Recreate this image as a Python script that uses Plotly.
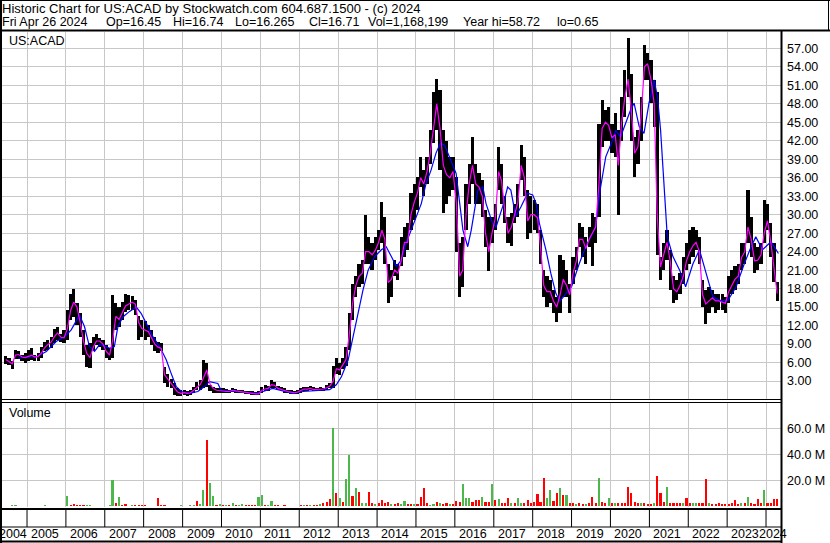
import pandas as pd
import plotly.graph_objects as go

# ---------------- data ----------------
months = pd.date_range("2004-06-01", "2024-04-01", freq="MS") + pd.Timedelta(days=14)

high = [
    7.0, 6.7, 6.3, 8.0, 7.8, 7.3, 7.6,
    8.0, 8.3, 7.3, 7.6, 8.6, 9.4, 9.7, 10.2, 11.5, 11.8, 10.7, 11.3,
    14.5, 17.2, 17.9, 15.6, 14.0, 11.3, 8.9, 9.1, 10.2, 10.7, 10.0, 9.7,
    8.9, 8.3, 17.0, 15.6, 15.0, 15.9, 17.2, 17.0, 16.8, 16.2, 13.5, 12.9,
    12.7, 12.1, 11.3, 10.2, 9.4, 9.1, 5.3, 4.2, 3.4, 2.6, 1.8, 1.5,
    1.5, 1.3, 1.5, 2.1, 2.9, 3.2, 6.4, 5.9, 2.3, 2.1, 1.8, 1.8,
    1.8, 1.7, 1.6, 1.8, 1.7, 1.6, 1.5, 1.4, 1.4, 1.3, 1.2, 1.3,
    2.1, 2.3, 2.2, 3.2, 2.8, 2.2, 2.0, 1.8, 1.6, 1.6, 1.4, 1.5,
    1.8, 2.1, 2.0, 2.2, 2.0, 1.9, 2.0, 1.9, 2.3, 2.6, 5.5, 6.7,
    6.0, 6.7, 8.6, 14.0, 18.8, 20.0, 22.0, 22.6, 30.0, 26.4, 25.4, 26.4,
    27.5, 32.0, 29.7, 22.0, 21.0, 22.6, 22.0, 26.4, 28.0, 28.6, 33.5, 35.0,
    36.2, 39.4, 37.2, 39.4, 43.7, 50.0, 52.0, 50.2, 43.7, 42.0, 39.4, 39.4,
    36.2, 25.4, 26.4, 35.0, 38.3, 42.6, 38.3, 36.7, 35.6, 30.8, 29.7, 29.7,
    31.8, 41.0, 38.3, 33.0, 29.7, 30.2, 31.8, 35.0, 41.3, 39.4, 34.0, 33.0,
    32.4, 31.8, 27.5, 21.0, 20.0, 19.4, 17.8, 16.7, 23.5, 22.6, 21.0, 18.8,
    23.2, 24.8, 28.6, 28.0, 26.4, 28.0, 30.2, 29.7, 44.8, 48.6, 47.0, 47.5,
    44.8, 46.5, 43.7, 49.1, 53.5, 58.7, 52.9, 42.6, 43.7, 49.1, 57.5, 56.2,
    55.1, 51.9, 50.0, 23.2, 25.4, 27.5, 24.3, 20.0, 19.4, 20.5, 23.2, 25.4,
    27.5, 28.0, 27.5, 26.4, 19.4, 17.8, 18.3, 17.8, 17.2, 17.2, 17.2, 16.7,
    20.0, 21.0, 21.6, 22.0, 25.4, 25.4, 34.0, 29.7, 25.4, 24.8, 25.4, 32.4,
    31.8, 28.6, 25.4, 19.0,
]

low = [
    5.8, 5.6, 5.0, 6.5, 6.6, 6.2, 6.0,
    6.2, 6.4, 6.2, 6.2, 6.7, 7.8, 8.0, 8.3, 9.1, 9.7, 9.4, 9.1,
    9.7, 12.9, 13.4, 12.1, 10.2, 7.2, 5.3, 5.1, 8.0, 8.9, 8.6, 8.0,
    6.7, 6.4, 6.7, 11.3, 11.8, 12.9, 14.2, 14.6, 14.6, 13.7, 9.7, 10.2,
    9.7, 10.2, 8.8, 7.8, 7.5, 7.8, 2.6, 2.1, 1.8, 0.7, 0.6, 0.6,
    0.7, 0.65, 0.7, 1.0, 1.5, 1.6, 1.8, 2.1, 1.4, 1.1, 1.0, 1.0,
    1.0, 1.0, 1.0, 1.2, 1.1, 1.0, 1.0, 0.9, 0.9, 0.8, 0.7, 0.7,
    1.0, 1.3, 1.4, 1.8, 1.8, 1.5, 1.3, 1.0, 1.0, 0.9, 0.9, 0.9,
    1.1, 1.4, 1.4, 1.5, 1.3, 1.3, 1.4, 1.4, 1.6, 1.8, 1.8, 4.2,
    4.0, 5.0, 5.5, 8.0, 12.9, 16.7, 18.3, 18.8, 22.0, 22.0, 21.0, 22.6,
    24.3, 25.4, 22.0, 15.6, 16.7, 20.0, 19.4, 21.6, 23.2, 24.3, 27.5, 29.2,
    30.8, 34.5, 33.0, 35.0, 38.3, 41.6, 43.7, 37.2, 30.2, 31.8, 33.0, 34.0,
    24.0, 16.7, 18.3, 27.5, 31.8, 35.0, 31.8, 31.8, 29.7, 24.8, 20.8, 25.4,
    27.5, 34.0, 31.8, 28.6, 25.4, 25.0, 28.6, 29.7, 35.6, 33.0, 26.0, 27.0,
    27.5, 27.0, 22.0, 16.7, 15.0, 15.6, 14.0, 12.6, 14.0, 16.7, 16.7, 14.0,
    18.8, 21.0, 24.8, 23.2, 22.0, 24.8, 21.6, 25.4, 29.7, 41.0, 42.0, 42.0,
    40.0, 39.4, 30.0, 42.0, 45.9, 49.1, 42.0, 36.2, 38.3, 42.0, 51.9, 51.9,
    48.1, 44.3, 23.5, 19.4, 21.0, 22.6, 17.8, 15.6, 16.1, 17.2, 18.8, 21.0,
    22.0, 23.2, 24.3, 22.0, 15.0, 12.3, 14.0, 15.0, 14.0, 14.6, 14.6, 14.0,
    15.6, 17.2, 17.8, 18.8, 21.0, 22.0, 25.4, 23.2, 20.5, 21.0, 22.0, 25.4,
    27.5, 23.2, 19.0, 16.0,
]

ma_fast = [
    6.5, 6.2, 5.8, 7.2, 7.3, 6.9, 6.8,
    7.0, 7.2, 6.9, 7.0, 7.5, 8.4, 8.9, 9.3, 10.2, 10.8, 10.1, 10.0,
    11.5, 14.5, 15.8, 15.0, 12.5, 9.5, 7.5, 6.8, 8.5, 9.5, 9.5, 9.0,
    7.8, 7.2, 9.5, 13.5, 13.0, 14.0, 15.2, 15.5, 15.8, 15.5, 12.5, 11.5,
    11.2, 11.0, 10.0, 9.0, 8.5, 8.3, 4.0, 3.2, 2.6, 1.9, 1.2, 1.0,
    1.1, 1.0, 1.1, 1.5, 2.0, 2.4, 3.5, 4.8, 2.5, 1.8, 1.5, 1.4,
    1.4, 1.3, 1.3, 1.5, 1.4, 1.3, 1.2, 1.1, 1.1, 1.0, 0.9, 0.9,
    1.5, 1.7, 1.8, 2.4, 2.3, 1.8, 1.6, 1.4, 1.3, 1.2, 1.1, 1.2,
    1.4, 1.7, 1.7, 1.8, 1.6, 1.6, 1.7, 1.7, 1.9, 2.2, 3.0, 5.0,
    4.8, 5.6, 6.5, 10.5, 15.5, 18.5, 20.0, 20.5, 24.0, 24.0, 23.5, 24.2,
    25.5, 27.5, 26.0, 19.0, 19.5, 21.0, 20.5, 22.5, 25.5, 25.5, 30.0, 32.0,
    33.5, 36.0, 35.0, 37.0, 40.0, 44.0, 48.0, 44.0, 38.0, 36.5, 36.0, 37.0,
    32.0, 20.0, 21.0, 30.0, 35.0, 38.0, 35.0, 34.5, 33.0, 27.0, 24.0, 27.0,
    29.5, 37.0, 35.5, 30.5, 27.0, 28.0, 30.0, 32.0, 38.0, 36.0, 29.0, 30.0,
    30.0, 29.5, 25.0, 18.5, 17.5, 17.5, 16.0, 15.0, 17.0, 19.5, 18.5, 17.0,
    20.5, 22.5, 26.0, 26.0, 24.5, 26.0, 27.0, 28.0, 35.0, 44.0, 45.0, 44.5,
    42.5, 43.0, 38.0, 45.0, 49.0, 52.0, 47.0, 40.0, 41.0, 46.0, 54.0, 54.5,
    52.0, 48.0, 30.0, 21.5, 23.5, 25.5, 22.5, 18.0, 17.5, 18.5, 20.0, 22.5,
    24.0, 25.0, 25.5, 24.0, 17.0, 15.5, 16.0, 16.5, 16.0, 16.0, 15.8, 15.6,
    17.5, 18.5, 19.5, 20.0, 23.0, 24.0, 28.0, 26.0, 22.5, 22.6, 23.5, 27.0,
    29.0, 25.5, 21.0, 17.2,
]

ma_slow_dates = [
    "2004-10-08", "2004-12-25", "2005-03-28", "2005-07-01", "2005-10-01", "2005-12-20",
    "2006-02-20", "2006-05-08", "2006-06-25", "2006-08-10", "2006-09-27", "2006-11-13",
    "2007-01-01", "2007-02-15", "2007-04-01", "2007-05-04", "2007-06-20", "2007-08-22",
    "2007-10-24", "2007-12-08", "2008-01-25", "2008-03-28", "2008-05-30", "2008-08-01",
    "2008-09-16", "2008-11-02", "2008-12-20", "2009-03-08", "2009-05-24", "2009-07-25",
    "2009-09-09", "2009-11-28", "2009-12-28", "2010-03-18", "2010-08-22", "2010-11-24",
    "2011-01-26", "2011-04-27", "2011-07-31", "2011-11-03", "2012-02-06", "2012-06-10",
    "2012-10-12", "2012-12-14", "2013-01-31", "2013-04-04", "2013-05-19", "2013-07-06",
    "2013-08-22", "2013-10-09", "2013-12-10", "2014-02-10", "2014-03-28", "2014-05-15",
    "2014-07-01", "2014-08-15", "2014-10-01", "2014-11-17", "2015-01-04", "2015-02-20",
    "2015-04-05", "2015-05-22", "2015-07-08", "2015-08-18", "2015-09-27", "2015-11-10",
    "2016-01-13", "2016-03-17", "2016-05-01", "2016-06-03", "2016-08-04", "2016-09-20",
    "2016-10-20", "2016-12-20", "2017-01-22", "2017-03-25", "2017-05-11", "2017-06-10",
    "2017-07-26", "2017-09-13", "2017-11-14", "2018-01-01", "2018-02-03", "2018-03-05",
    "2018-05-05", "2018-06-20", "2018-08-07", "2018-09-15", "2019-01-01", "2019-03-13",
    "2019-05-14", "2019-08-15", "2019-10-01", "2019-11-18", "2020-01-19", "2020-02-20",
    "2020-04-05", "2020-05-22", "2020-07-08", "2020-08-10", "2020-09-27", "2020-11-11",
    "2020-12-28", "2021-02-14", "2021-03-18", "2021-04-16", "2021-05-12", "2021-06-18",
    "2021-08-10", "2021-10-12", "2021-12-07", "2022-02-13", "2022-04-16", "2022-06-18",
    "2022-08-19", "2022-10-20", "2023-01-08", "2023-03-26", "2023-06-10", "2023-08-14",
    "2023-09-27", "2023-11-29", "2024-02-17", "2024-04-05", "2024-04-26",
]
ma_slow = [
    6.7, 6.9, 6.9, 7.8, 9.4, 10.2,
    11.3, 13.7, 11.8, 8.6, 7.8, 8.9,
    8.7, 8.3, 8.6, 11.8, 13.4, 14.3,
    15.0, 14.0, 12.4, 10.2, 8.6, 6.4,
    4.2, 2.1, 1.3, 1.0, 1.3, 2.1,
    2.9, 2.6, 1.5, 1.4, 1.2, 1.0,
    1.3, 1.8, 1.4, 1.0, 1.3, 1.5,
    1.6, 2.4, 3.7, 6.4, 10.2, 14.0,
    17.8, 21.0, 23.2, 24.3, 24.8, 23.2,
    21.6, 22.6, 25.4, 27.5, 29.7, 31.8,
    35.0, 37.2, 40.0, 41.6, 41.3, 39.5,
    36.7, 27.5, 24.8, 27.5, 34.0, 34.5,
    31.8, 28.6, 28.0, 31.3, 34.5, 34.0,
    29.7, 31.3, 33.5, 33.2, 31.8, 28.6,
    24.3, 20.5, 17.2, 16.0, 18.3, 22.0,
    24.8, 28.0, 34.5, 39.4, 42.0, 43.7,
    42.6, 44.8, 47.0, 48.1, 44.3, 43.2,
    48.1, 51.9, 49.1, 43.7, 36.0, 26.4,
    23.2, 21.0, 18.3, 22.0, 24.3, 20.5,
    16.7, 16.1, 16.1, 18.3, 22.0, 24.8,
    26.4, 24.3, 25.6, 24.3, 23.7,
]

# volume in millions (largest session of each month) and direction (g = up, r = down)
volume_m = [
    0.3, 0.2, 0.8, 0.4, 0.3, 0.2, 0.3,
    0.3, 0.2, 0.3, 0.2, 0.3, 0.6, 0.3, 0.2, 0.3, 0.3, 0.2, 0.3,
    7.7, 1.0, 1.5, 1.0, 0.5, 0.6, 0.5, 0.8, 0.3, 0.3, 0.2, 0.3,
    0.3, 0.4, 20.0, 2.0, 7.0, 1.0, 1.2, 0.3, 1.0, 0.8, 0.5, 0.8,
    0.8, 0.3, 0.3, 0.3, 6.5, 0.5, 0.8, 0.3, 0.2, 0.3, 0.2, 0.4,
    0.3, 0.2, 0.8, 1.0, 3.5, 1.5, 12.0, 51.0, 17.5, 7.7, 1.0, 1.5,
    1.0, 0.8, 1.0, 2.0, 0.8, 0.8, 1.3, 0.5, 0.6, 1.0, 0.5, 6.7,
    8.5, 0.8, 0.5, 4.0, 1.0, 0.5, 0.3, 0.4, 0.3, 0.3, 0.3, 0.3,
    0.5, 0.7, 0.5, 0.6, 0.4, 0.6, 1.2, 2.0, 3.0, 5.4, 60.0, 9.8,
    6.0, 3.0, 20.6, 39.5, 7.7, 13.7, 10.8, 2.0, 2.5, 10.6, 2.0, 1.5,
    2.0, 5.0, 2.5, 3.0, 1.5, 1.5, 2.0, 1.5, 4.0, 1.5, 1.5, 1.5,
    1.5, 7.0, 13.7, 2.0, 1.0, 1.5, 3.0, 2.0, 1.5, 2.0, 1.5, 1.5,
    4.0, 3.0, 16.8, 6.0, 6.0, 3.0, 5.0, 4.6, 6.7, 3.0, 3.0, 16.8,
    4.6, 5.4, 2.5, 2.5, 6.0, 2.0, 2.0, 6.2, 2.5, 2.5, 4.6, 2.0,
    2.8, 9.3, 3.0, 22.0, 6.0, 12.4, 4.0, 9.8, 14.0, 8.5, 8.5, 2.5,
    2.0, 1.5, 2.0, 1.5, 1.5, 2.0, 7.2, 2.0, 22.0, 3.4, 2.0, 6.0,
    2.0, 2.0, 2.5, 2.0, 2.0, 15.0, 9.8, 3.0, 2.0, 2.0, 2.5, 1.5,
    1.5, 2.0, 23.2, 9.8, 3.0, 15.0, 2.5, 2.5, 2.0, 2.5, 2.0, 6.0,
    2.0, 2.0, 2.6, 2.0, 2.0, 21.0, 2.0, 1.5, 1.5, 2.0, 1.5, 1.5,
    1.5, 2.0, 4.6, 1.5, 2.0, 2.5, 7.2, 2.0, 1.5, 5.2, 2.0, 12.4,
    2.5, 2.0, 5.2, 5.2,
]
volume_dir = (
    "grggrgr"
    "rgrgrgrggrrg"
    "grrrrrggggrr"
    "rggrgrrrgrrr"
    "rrrrrrrrrrgg"
    "grggrggrggrg"
    "rgrgrggrrrrg"
    "grggrrgrgrgr"
    "rgrgrrgrrrgr"
    "grggrgrggrrg"
    "rrrrgrrggrrg"
    "rrrrggrgrrgr"
    "rrgggrrrgrrg"
    "rgrrrgrggrrr"
    "rrrrggrrgrgr"
    "rgrrgrrrgrrg"
    "rgrrrrrrrgrr"
    "rgrrrgrrrrgr"
    "rggrrrgrrrrr"
    "rrrrgrgrrrrg"
    "rrrr"
)

year_labels = [str(y) for y in range(2004, 2025)]
price_ticks = [3, 6, 9, 12, 15, 18, 21, 24, 27, 30, 33, 36, 39, 42, 45, 48, 51, 54, 57]
volume_ticks = [20, 40, 60]

title_line1 = "Historic Chart for US:ACAD by Stockwatch.com 604.687.1500 - (c) 2024"
title_line2 = ["Fri Apr 26 2024", "Op=16.45", "Hi=16.74", "Lo=16.265", "Cl=16.71",
               "Vol=1,168,199", "Year hi=58.72", "lo=0.65"]

# ---------------- layout geometry (pixels) ----------------
W, H = 830, 543
PL, PR, PT, PB = 2, 782, 32, 507
FONT = "Liberation Sans, Arial, sans-serif"
FS = 12.5
GRID = "#c8c8c8"


def fx(px):
    return (px - PL) / (PR - PL)


def fy(py):
    return (PB - py) / (PB - PT)


fig = go.Figure()

# price bars (high-low)
fig.add_trace(go.Bar(
    x=months, y=[h - l for h, l in zip(high, low)], base=low,
    marker=dict(color="black", line_width=0), width=30 * 86400000,
    xaxis="x", yaxis="y", hoverinfo="skip", showlegend=False))
fig.add_trace(go.Scatter(
    x=ma_slow_dates, y=ma_slow, mode="lines", line=dict(color="#0000ff", width=1.2),
    xaxis="x", yaxis="y", hoverinfo="skip", showlegend=False))
fig.add_trace(go.Scatter(
    x=months, y=ma_fast, mode="lines", line=dict(color="#ff00ff", width=1.2),
    xaxis="x", yaxis="y", hoverinfo="skip", showlegend=False))

# volume bars
vol_colors = ["#4cb84c" if d == "g" else "#ff0000" for d in volume_dir]
fig.add_trace(go.Bar(
    x=months, y=[v * 1e6 for v in volume_m],
    marker=dict(color=vol_colors, line_width=0), width=20 * 86400000,
    xaxis="x", yaxis="y2", hoverinfo="skip", showlegend=False))

px_per_unit = 6.16
zero_price_px = 399.5
px_per_m = 1.2925
zero_vol_px = 506.0

fig.update_layout(
    width=W, height=H,
    margin=dict(l=PL, r=W - PR, t=PT, b=H - PB, pad=0, autoexpand=False),
    paper_bgcolor="white", plot_bgcolor="white",
    barmode="overlay", bargap=0,
    font=dict(family=FONT, size=FS, color="black"),
    xaxis=dict(
        type="date", range=["2004-05-11", "2024-05-30"],
        tick0="2005-01-01", dtick="M12", showgrid=True, gridcolor=GRID, gridwidth=1,
        showticklabels=False, ticks="", showline=False, zeroline=False, anchor="y2",
        fixedrange=True),
    yaxis=dict(
        domain=[fy(400), 1],
        range=[-(400 - zero_price_px) / px_per_unit,
               (zero_price_px - PT) / px_per_unit],
        side="right", tickmode="array", tickvals=price_ticks,
        ticktext=[f"{v:.2f}" for v in price_ticks],
        showgrid=True, gridcolor=GRID, gridwidth=1, zeroline=False, showline=False,
        ticks="", ticklabelstandoff=4, tickfont=dict(size=FS), fixedrange=True),
    yaxis2=dict(
        domain=[0, fy(402.5)],
        range=[-(PB - zero_vol_px) / px_per_m * 1e6, (zero_vol_px - 402.5) / px_per_m * 1e6],
        side="right", tickmode="array", tickvals=[v * 1e6 for v in volume_ticks],
        ticktext=[f"{v:.1f} M" for v in volume_ticks],
        showgrid=True, gridcolor=GRID, gridwidth=1, zeroline=False, showline=False,
        ticks="", ticklabelstandoff=4, tickfont=dict(size=FS), fixedrange=True),
)

shapes = []


def hline(py, x0, x1, w=1):
    shapes.append(dict(type="line", xref="paper", yref="paper", x0=fx(x0), x1=fx(x1),
                       y0=fy(py), y1=fy(py), line=dict(color="black", width=w)))


def vline(px, y0, y1, w=1):
    shapes.append(dict(type="line", xref="paper", yref="paper", x0=fx(px), x1=fx(px),
                       y0=fy(y0), y1=fy(y1), line=dict(color="black", width=w)))


# title box
hline(0.5, 0, 830, 1)
vline(828.5, 0, 31, 1)
hline(30.5, 0, 830, 2)
# left border and right axis line
vline(1, 0, 543, 2)
vline(781.5, 31, 543, 2)
# panel separators
hline(399.5, 0, 782, 1)
hline(402.5, 0, 782, 1)
hline(509, 0, 782, 2)
hline(527, 0, 782, 1)
hline(541.5, 0, 782, 2)
# year ticks in the strip under the volume panel
for y in year_labels[1:]:
    shapes.append(dict(type="line", xref="x", yref="paper", x0=f"{y}-01-01", x1=f"{y}-01-01",
                       y0=fy(509), y1=fy(527), line=dict(color="black", width=1)))
fig.update_layout(shapes=shapes)

ann = []


def text(s, px, py, anchor="left", size=FS):
    ann.append(dict(text=s, xref="paper", yref="paper", x=fx(px), y=fy(py),
                    xanchor=anchor, yanchor="middle", showarrow=False,
                    font=dict(size=size, family=FONT, color="black"), borderpad=0))


text(title_line1, 1, 8.5, size=13.05)
line2_px = [1, 105, 172, 234, 308, 367, 462, 556]
for s, p in zip(title_line2, line2_px):
    text(s, p, 22)
text("US:ACAD", 8, 41)
text("Volume", 8, 413)

# year labels
text(year_labels[0], 27.5, 534, anchor="right")
for y in year_labels[1:-1]:
    ann.append(dict(text=y, xref="x", yref="paper", x=f"{y}-01-01", y=fy(534),
                    xanchor="left", yanchor="middle", xshift=3, showarrow=False,
                    font=dict(size=FS, family=FONT, color="black"), borderpad=0))
text(year_labels[-1], 788, 534, anchor="right")
fig.update_layout(annotations=ann)

fig.write_html(
    "out.html",
    config={"displayModeBar": False, "staticPlot": True},
    post_script="document.body.style.margin='0';document.body.style.padding='0';",
)
